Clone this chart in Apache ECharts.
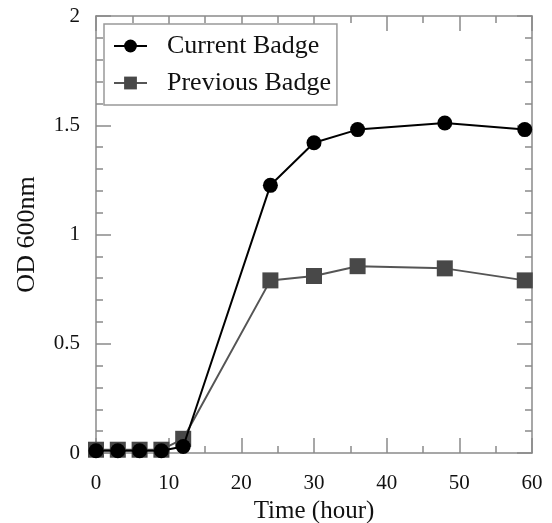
<!DOCTYPE html>
<html>
<head>
<meta charset="utf-8">
<script src="https://cdn.jsdelivr.net/npm/echarts@6/dist/echarts.min.js"></script>
<style>
  html, body { margin: 0; padding: 0; background: #fff; }
  #chart { width: 552px; height: 523px; }
</style>
</head>
<body>
<div id="chart"></div>
<script>
// time points (hour)
const hours = [0, 3, 6, 9, 12, 24, 30, 36, 48, 59];
// OD 600nm readings
const currentBadge = [0.01, 0.01, 0.01, 0.01, 0.03, 1.225, 1.42, 1.48, 1.51, 1.48];
const previousBadge = [0.015, 0.015, 0.015, 0.015, 0.065, 0.79, 0.81, 0.855, 0.845, 0.79];
const xTicks = [0, 10, 20, 30, 40, 50, 60];
const yTicks = [0, 0.5, 1, 1.5, 2];

const serif = "Liberation Serif";
const axisGray = "#8a8a8a";

function pairs(xs, ys) {
    return xs.map((x, i) => [x, ys[i]]);
}

let chart = echarts.init(document.getElementById("chart"));

// 共用的坐标轴样式
const axisLine = { show: true, onZero: false, lineStyle: { color: axisGray, width: 1.5 } };
const axisTick = { show: true, inside: true, length: 15, lineStyle: { color: axisGray, width: 1.5 } };
function minor(n) {
    return { show: true, splitNumber: n, length: 7, lineStyle: { color: axisGray, width: 1.5 } };
}

let option = {
    animation: false,
    grid: { left: 96, right: 20, top: 16, bottom: 70, outerBoundsMode: "none", containLabel: false },
    legend: {
        orient: "vertical",
        left: 104,
        top: 24,
        padding: [9, 6, 9, 9],
        itemGap: 11,
        itemWidth: 33,
        itemHeight: 16,
        backgroundColor: "#fff",
        borderColor: "#999",
        borderWidth: 1.5,
        textStyle: { fontFamily: serif, fontSize: 26, color: "#111", padding: [0, 0, 0, 15] },
        data: ["Current Badge", "Previous Badge"]
    },
    xAxis: [
        {
            type: "value",
            min: 0,
            max: 60,
            interval: 10,
            name: "Time (hour)",
            nameLocation: "middle",
            nameGap: 43,
            nameTextStyle: { fontFamily: serif, fontSize: 25, color: "#111" },
            axisLabel: { fontFamily: serif, fontSize: 21, color: "#111", margin: 20,
                customValues: xTicks },
            axisLine: axisLine,
            axisTick: axisTick,
            minorTick: minor(2),
            splitLine: { show: false }
        },
        {
            type: "value",
            position: "top",
            min: 0,
            max: 60,
            interval: 10,
            axisLine: axisLine,
            axisTick: axisTick,
            minorTick: minor(2),
            axisLabel: { show: false },
            splitLine: { show: false }
        }
    ],
    yAxis: [
        {
            type: "value",
            min: 0,
            max: 2,
            interval: 0.5,
            name: "OD 600nm",
            nameLocation: "middle",
            nameGap: 56,
            nameTextStyle: { fontFamily: serif, fontSize: 26, color: "#111" },
            axisLabel: { fontFamily: serif, fontSize: 21, color: "#111", margin: 16,
                customValues: yTicks },
            axisLine: axisLine,
            axisTick: axisTick,
            minorTick: minor(5),
            splitLine: { show: false }
        },
        {
            type: "value",
            position: "right",
            min: 0,
            max: 2,
            interval: 0.5,
            axisLine: axisLine,
            axisTick: axisTick,
            minorTick: minor(5),
            axisLabel: { show: false },
            splitLine: { show: false }
        }
    ],
    series: [
        {
            name: "Previous Badge",
            type: "line",
            xAxisIndex: 0,
            yAxisIndex: 0,
            data: pairs(hours, previousBadge),
            symbol: "rect",
            symbolSize: 16,
            z: 2,
            itemStyle: { color: "#484848" },
            lineStyle: { color: "#555", width: 2 }
        },
        {
            name: "Current Badge",
            type: "line",
            xAxisIndex: 0,
            yAxisIndex: 0,
            data: pairs(hours, currentBadge),
            symbol: "circle",
            symbolSize: 15,
            z: 3,
            itemStyle: { color: "#000" },
            lineStyle: { color: "#000", width: 2 }
        }
    ]
};
chart.setOption(option);
</script>
</body>
</html>
